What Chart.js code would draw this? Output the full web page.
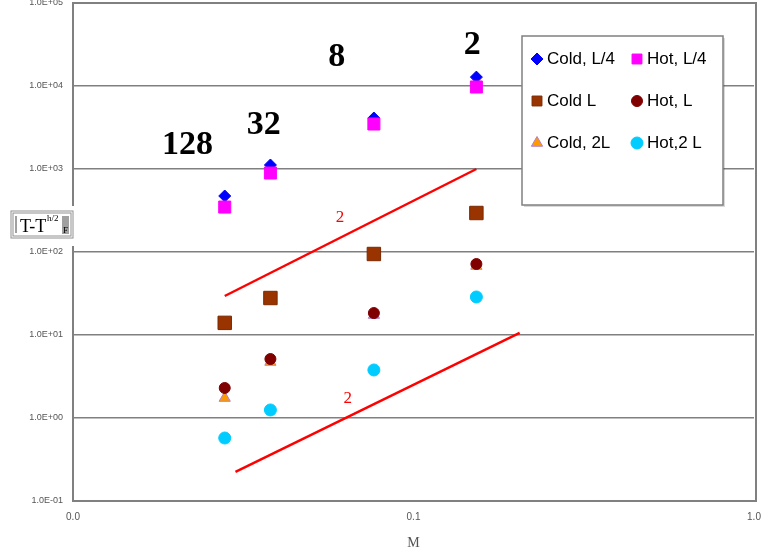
<!DOCTYPE html>
<html>
<head>
<meta charset="utf-8">
<script src="https://cdn.jsdelivr.net/npm/chart.js@4/dist/chart.umd.min.js"></script>
<style>
  html, body { margin: 0; padding: 0; background: #fff; }
</style>
</head>
<body>
<canvas id="normChart" width="763" height="558"></canvas>
<script>
// mesh parameter M for the four grids
const mValues = [0.0279, 0.038, 0.0765, 0.153];

// error norms
const coldQuarter = [473, 1117, 4115, 12800];
const hotQuarter = [348, 895, 3485, 9730];
const coldL = [14, 27.9, 94.6, 295];
const hotL = [2.3, 5.14, 18.4, 71.7];
const cold2L = [1.74, 4.73, 17.4, 67.8];
const hot2L = [0.574, 1.25, 3.79, 28.7];

// slope-2 reference lines
const upperSlopeM = [0.0279, 0.153];
const upperSlopeY = [29.5, 1000];
const lowerSlopeM = [0.030, 0.205];
const lowerSlopeY = [0.224, 10.6];

// tick values and labels
const xTickValues = [0.01, 0.1, 1];
const xTickLabels = ['0.0', '0.1', '1.0'];
const yTickValues = [0.1, 1, 10, 100, 1000, 10000, 100000];

// grid counts written over the columns, and the slope labels
const gridCountText = ['128', '32', '8', '2'];
const gridCountM = [0.0217, 0.0363, 0.0595, 0.1487];
const gridCountY = [1945, 3388, 22340, 31180];
const slopeText = ['2', '2'];
const slopeM = [0.0608, 0.0641];
const slopeY = [257, 1.74];

const legendNames = ['Cold, L/4', 'Hot, L/4', 'Cold L', 'Hot, L', 'Cold, 2L', 'Hot,2 L'];

function pts(xs, ys) {
    return xs.map((x, i) => ({ x: x, y: ys[i] }));
}

function expLabel(v) {
    const e = Math.round(Math.log10(v));
    const s = e < 0 ? '-' : '+';
    return '1.0E' + s + String(Math.abs(e)).padStart(2, '0');
}

const markerStyles = {
    coldQuarter: { pointStyle: 'rectRot', radius: 6, backgroundColor: '#0000ff', borderColor: '#0000ff', borderWidth: 1 },
    hotQuarter: { pointStyle: 'rect', radius: 8.5, backgroundColor: '#ff00ff', borderColor: '#ff00ff', borderWidth: 1 },
    coldL: { pointStyle: 'rect', radius: 9.5, backgroundColor: '#993300', borderColor: '#7a2800', borderWidth: 1 },
    hotL: { pointStyle: 'circle', radius: 5.5, backgroundColor: '#800000', borderColor: '#800000', borderWidth: 1 },
    cold2L: { pointStyle: 'triangle', radius: 6.5, backgroundColor: '#ff9900', borderColor: '#b080d0', borderWidth: 1 },
    hot2L: { pointStyle: 'circle', radius: 6, backgroundColor: '#00ccff', borderColor: '#00ccff', borderWidth: 1 }
};

function markerSet(label, data, key, order) {
    const st = markerStyles[key];
    return {
        label: label,
        data: data,
        showLine: false,
        order: order,
        pointStyle: st.pointStyle,
        pointRadius: st.radius,
        pointBackgroundColor: st.backgroundColor,
        pointBorderColor: st.borderColor,
        pointBorderWidth: st.borderWidth
    };
}

const extrasPlugin = {
    id: 'extras',
    afterDraw(chart) {
        const ctx = chart.ctx;
        const area = chart.chartArea;
        const xs = chart.scales.x;
        const ys = chart.scales.y;
        ctx.save();

        // frame round the plot
        ctx.strokeStyle = '#808080';
        ctx.lineWidth = 2;
        ctx.strokeRect(area.left, area.top, area.right - area.left + 2, area.bottom - area.top);

        // grid counts
        ctx.fillStyle = '#000';
        ctx.font = 'bold 34px "Liberation Serif", "Times New Roman", serif';
        ctx.textAlign = 'center';
        ctx.textBaseline = 'middle';
        gridCountText.forEach((t, i) => {
            ctx.fillText(t, xs.getPixelForValue(gridCountM[i]), ys.getPixelForValue(gridCountY[i]));
        });

        // slope labels
        ctx.fillStyle = '#ff0000';
        ctx.font = '17px "Liberation Serif", "Times New Roman", serif';
        slopeText.forEach((t, i) => {
            ctx.fillText(t, xs.getPixelForValue(slopeM[i]), ys.getPixelForValue(slopeY[i]));
        });

        // legend box
        const lx = 522, ly = 36, lw = 201, lh = 169;
        ctx.fillStyle = 'rgba(0,0,0,0.15)';
        ctx.fillRect(lx + 2, ly + 2, lw, lh);
        ctx.fillStyle = '#fff';
        ctx.fillRect(lx, ly, lw, lh);
        ctx.strokeStyle = '#808080';
        ctx.lineWidth = 1.5;
        ctx.strokeRect(lx, ly, lw, lh);

        const sets = chart.data.datasets.filter(d => d.showLine === false);
        const byLabel = {};
        sets.forEach(d => { byLabel[d.label] = d; });
        ctx.font = '17px "Liberation Sans", Arial, sans-serif';
        ctx.textAlign = 'left';
        legendNames.forEach((name, i) => {
            const col = i % 2, row = Math.floor(i / 2);
            const mx = col === 0 ? 537 : 637;
            const my = 59 + row * 42;
            const d = byLabel[name];
            ctx.fillStyle = d.pointBackgroundColor;
            ctx.strokeStyle = d.pointBorderColor;
            ctx.lineWidth = d.pointBorderWidth;
            Chart.helpers.drawPoint(ctx, {
                pointStyle: d.pointStyle,
                radius: Math.min(d.pointRadius, 7),
                rotation: 0,
                borderWidth: d.pointBorderWidth
            }, mx, my);
            ctx.fillStyle = '#000';
            ctx.fillText(name, mx + 10, my);
        });

        // y-axis title box
        ctx.fillStyle = '#fff';
        ctx.fillRect(9, 206, 68, 40);
        ctx.strokeStyle = '#909090';
        ctx.lineWidth = 1;
        ctx.strokeRect(11, 211, 62, 27);
        ctx.strokeRect(13, 213, 58, 23);
        ctx.fillStyle = '#a0a0a0';
        ctx.fillRect(15, 216, 2, 17);
        ctx.fillRect(62, 216, 7, 18);
        ctx.fillStyle = '#000';
        ctx.font = '18px "Liberation Serif", "Times New Roman", serif';
        ctx.textBaseline = 'alphabetic';
        ctx.fillText('T-T', 20, 232);
        ctx.font = '9px "Liberation Serif", "Times New Roman", serif';
        ctx.fillText('h/2', 47, 221);
        ctx.fillText('F', 63, 233);

        ctx.restore();
    }
};

const ctx = document.getElementById('normChart').getContext('2d');

const normChart = new Chart(ctx, {
    type: 'scatter',
    data: {
        datasets: [
            markerSet('Hot, L/4', pts(mValues, hotQuarter), 'hotQuarter', 1),
            markerSet('Cold, L/4', pts(mValues, coldQuarter), 'coldQuarter', 2),
            markerSet('Hot, L', pts(mValues, hotL), 'hotL', 1),
            markerSet('Cold, 2L', pts(mValues, cold2L), 'cold2L', 2),
            markerSet('Cold L', pts(mValues, coldL), 'coldL', 1),
            markerSet('Hot,2 L', pts(mValues, hot2L), 'hot2L', 1),
            {
                label: 'slope upper',
                data: pts(upperSlopeM, upperSlopeY),
                showLine: true,
                borderColor: '#ff0000',
                borderWidth: 2.5,
                pointRadius: 0,
                order: 3
            },
            {
                label: 'slope lower',
                data: pts(lowerSlopeM, lowerSlopeY),
                showLine: true,
                borderColor: '#ff0000',
                borderWidth: 2.5,
                pointRadius: 0,
                order: 3
            }
        ]
    },
    options: {
        responsive: false,
        animation: false,
        devicePixelRatio: 1,
        layout: { autoPadding: false, padding: { top: 3, right: 9, left: 0, bottom: 0 } },
        plugins: {
            legend: { display: false },
            tooltip: { enabled: false }
        },
        scales: {
            x: {
                type: 'logarithmic',
                min: 0.01,
                max: 1,
                afterBuildTicks: (scale) => { scale.ticks = xTickValues.map(v => ({ value: v })); },
                afterFit: (scale) => {
                    scale.height = 57;
                    scale.paddingLeft = 0;
                    scale.paddingRight = 0;
                },
                grid: { display: false, drawTicks: false },
                border: { display: true, color: '#808080', width: 2 },
                ticks: {
                    padding: 10,
                    color: '#555',
                    font: { family: '"Liberation Sans", Arial, sans-serif', size: 10 },
                    maxRotation: 0,
                    autoSkip: false,
                    callback: (v) => xTickLabels[xTickValues.indexOf(v)]
                },
                title: {
                    display: true,
                    text: 'M',
                    color: '#555',
                    font: { family: '"Liberation Serif", "Times New Roman", serif', size: 14 },
                    padding: { top: 0, bottom: 6 }
                }
            },
            y: {
                type: 'logarithmic',
                min: 0.1,
                max: 100000,
                afterBuildTicks: (scale) => { scale.ticks = yTickValues.map(v => ({ value: v })); },
                afterFit: (scale) => {
                    scale.width = 73;
                    scale.paddingTop = 0;
                    scale.paddingBottom = 0;
                },
                grid: { color: '#808080', lineWidth: 1.5, drawTicks: false },
                border: { display: true, color: '#808080', width: 2 },
                ticks: {
                    padding: 10,
                    color: '#555',
                    font: { family: '"Liberation Sans", Arial, sans-serif', size: 9 },
                    autoSkip: false,
                    callback: (v) => expLabel(v)
                }
            }
        }
    },
    plugins: [extrasPlugin]
});
</script>
</body>
</html>
